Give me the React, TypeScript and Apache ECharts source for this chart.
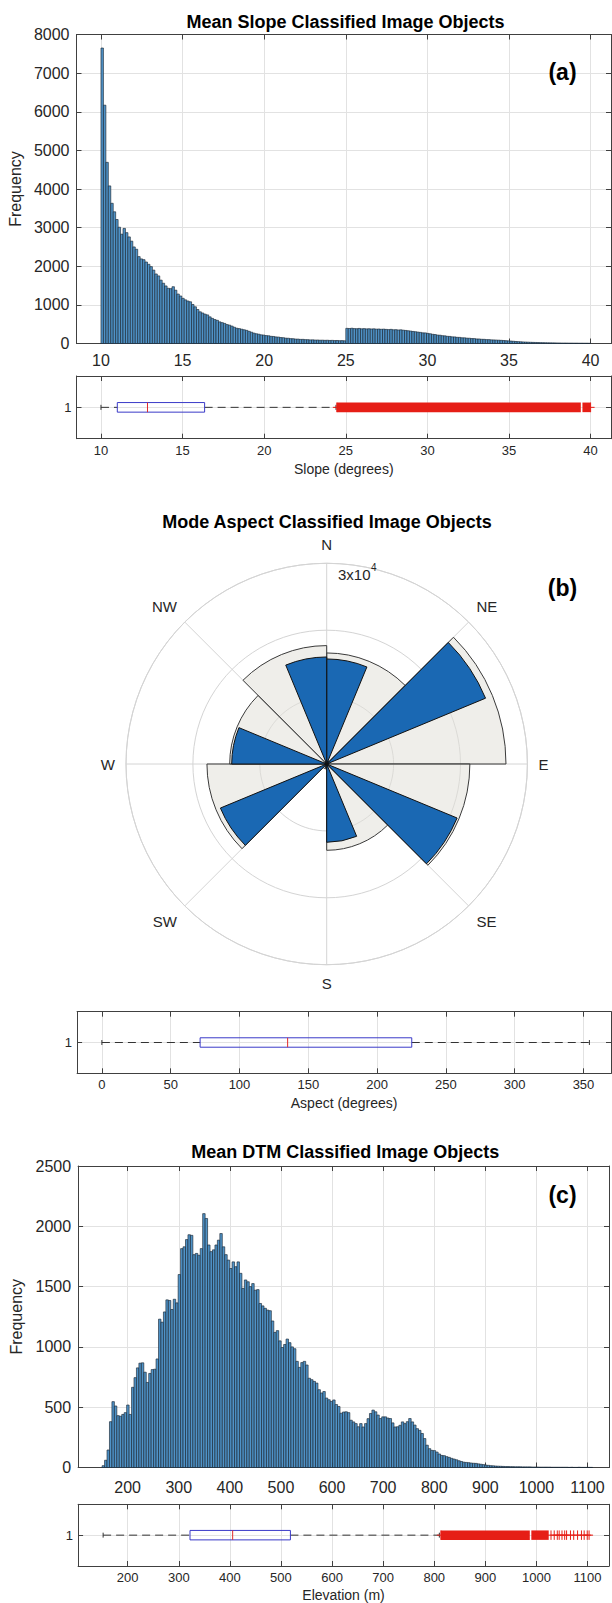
import React, { useEffect, useRef } from 'react';
import * as echarts from 'echarts';

// ---------------- Panel (a): Mean slope ----------------
const slopeBinStart = 10;
const slopeBinWidth = 0.15;
const slopeCounts = [
  7650, 6170, 4690, 4080, 3630, 3410, 3210, 3010, 2830, 2980,
  2870, 2760, 2650, 2500, 2440, 2250, 2190, 2170, 2110, 2050,
  1990, 1900, 1800, 1750, 1640, 1560, 1490, 1430, 1420, 1470,
  1380, 1280, 1230, 1170, 1130, 1100, 1080, 1010, 950, 880,
  820, 790, 760, 740, 690, 650, 620, 600, 560, 540,
  520, 490, 475, 450, 420, 395, 385, 370, 355, 340,
  315, 292, 268, 252, 240, 224, 218, 205, 200, 186,
  182, 170, 166, 154, 150, 138, 136, 126, 124, 115,
  114, 106, 107, 100, 99, 93, 95, 89, 90, 85,
  86, 82, 84, 79, 81, 76, 78, 73, 75, 70,
  392, 388, 395, 386, 383, 390, 380, 385, 378, 382,
  376, 380, 372, 375, 368, 372, 365, 360, 366, 355,
  358, 350, 354, 345, 338, 330, 322, 312, 305, 295,
  288, 276, 274, 262, 252, 238, 232, 218, 214, 202,
  198, 186, 183, 172, 170, 160, 158, 148, 147, 138,
  136, 128, 127, 118, 117, 109, 108, 101, 100, 94,
  92, 89, 86, 82, 78, 73, 68, 63, 58, 52,
  48, 44, 40, 37, 34, 31, 29, 27, 25, 23,
  21, 20, 18, 17, 16, 15, 14, 13, 12, 12,
  11, 10, 10, 9, 9, 8, 8, 7, 7, 6,
];
const slopeYTicks = [0, 1000, 2000, 3000, 4000, 5000, 6000, 7000, 8000];
const slopeXTicks = [10, 15, 20, 25, 30, 35, 40];
const slopeXRange = [8.5, 41.25];
const slopeBoxStats = [10.0, 11.0, 12.85, 16.35, 24.4];
const slopeOutlierBands = [[24.45, 39.4], [39.5, 40.0]];
const slopeOutlierMarks = [24.45, 40.0];

// ---------------- Panel (b): Mode aspect ----------------
const compassAngles = [0, 45, 90, 135, 180, 225, 270, 315];
const compassLabels = ['N', 'NE', 'E', 'SE', 'S', 'SW', 'W', 'NW'];
const aspectWideBins = ['0-45', '45-90', '90-135', '135-180', '180-225', '225-270', '270-315', '315-360'];
const aspectWideCounts = [16600, 26800, 21400, 12900, 750, 17900, 14500, 17700];
const aspectNarrowBins = [
  '0', '22.5', '45', '67.5', '90', '112.5', '135', '157.5',
  '180', '202.5', '225', '247.5', '270', '292.5', '315', '337.5',
];
const aspectNarrowCounts = [
  15700, 500, 25700, 350, 300, 21100, 350, 11700,
  600, 300, 17200, 300, 14200, 300, 350, 16000,
];
const aspectRadiusTicks = [0, 10000, 20000, 30000];
const aspectXTicks = [0, 50, 100, 150, 200, 250, 300, 350];
const aspectXRange = [-18, 370];
const aspectBoxStats = [0, 71.4, 135, 225.2, 354.3];

// ---------------- Panel (c): Mean DTM ----------------
const elevBinStart = 150;
const elevBinWidth = 4.8;
const elevCounts = [
  15, 60, 145, 380, 546, 510, 430, 425, 440, 455,
  518, 440, 665, 745, 826, 865, 868, 790, 705, 780,
  812, 815, 900, 1230, 1205, 1290, 1390, 1385, 1310, 1395,
  1365, 1600, 1815, 1830, 1890, 1930, 1925, 1765, 1775, 1760,
  1815, 2105, 2065, 1845, 1790, 1805, 1845, 1885, 1940, 1830,
  1765, 1720, 1650, 1705, 1665, 1705, 1610, 1485, 1555, 1540,
  1500, 1525, 1470, 1475, 1360, 1340, 1320, 1305, 1300, 1215,
  1120, 1135, 1050, 995, 1020, 1065, 1035, 1000, 985, 880,
  830, 870, 880, 850, 740, 728, 714, 700, 645, 618,
  630, 576, 562, 548, 560, 522, 506, 450, 460, 462,
  455, 392, 378, 364, 338, 364, 336, 364, 405, 448,
  476, 462, 435, 406, 420, 420, 410, 406, 370, 336,
  338, 350, 378, 364, 380, 406, 378, 352, 322, 308,
  282, 240, 185, 156, 142, 140, 128, 112, 100, 98,
  90, 84, 76, 70, 64, 56, 50, 44, 42, 40,
  37, 35, 34, 30, 27, 24, 20, 18, 15, 14,
  12, 11, 10, 9, 8, 8, 7, 7, 6, 6,
  6, 5, 5, 5, 5, 4, 4, 4, 3, 3,
  3, 3, 3, 2, 2, 2, 2, 2, 2, 2,
  1, 2, 1, 1, 2, 1, 1, 1, 1, 1,
];
const elevYTicks = [0, 500, 1000, 1500, 2000, 2500];
const elevXTicks = [200, 300, 400, 500, 600, 700, 800, 900, 1000, 1100];
const elevXRange = [103, 1142];
const elevBoxStats = [152, 322, 405.5, 518.5, 810];
const elevOutlierBands = [[813, 987], [990, 1024]];
const elevOutlierMarks = [
  813, 1028.5, 1034.8, 1040.8, 1044.5, 1050, 1055.3, 1059, 1066.6,
  1072.9, 1080.5, 1088.1, 1093.4, 1099.4, 1103,
];

const boxYTicks = [0.5, 1, 1.5];
const boxYLabels = ['', '1', ''];

// ---------------- styling ----------------
const FONT = "'Liberation Sans', Arial, Helvetica, sans-serif";
const AX_COLOR = '#404040';
const GRID_COLOR = '#e2e2e2';
const TXT = '#262626';
const BAR_FILL = '#4f93c8';
const BAR_EDGE = '#1a2633';
const BOX_BLUE = '#3a3ac8';
const MED_RED = '#e02a2a';
const OUT_RED = '#e61e16';

function isTick(v: number, ticks: number[]) {
  return ticks.some((t) => Math.abs(t - v) < 1e-6);
}

function xPair(gridIndex: number, ticks: number[], range: number[], labelSize: number, margin: number, name?: string, nameGap?: number) {
  const step = ticks[1] - ticks[0];
  const base: any = {
    type: 'value',
    gridIndex,
    min: range[0],
    max: range[1],
    minInterval: step,
    maxInterval: step,
    splitNumber: Math.max(1, Math.round((range[1] - range[0]) / step)),
    axisLine: { show: true, onZero: false, lineStyle: { color: AX_COLOR, width: 1 } },
    axisTick: { show: true, inside: true, length: 5, lineStyle: { color: AX_COLOR, width: 1 } },
  };
  const bottom: any = {
    ...base,
    position: 'bottom',
    axisLabel: {
      show: true,
      fontSize: labelSize,
      color: TXT,
      fontFamily: FONT,
      margin,
      formatter: (v: number) => (isTick(v, ticks) ? String(v) : ''),
    },
    splitLine: { show: true, lineStyle: { color: GRID_COLOR, width: 1 } },
  };
  if (name) {
    bottom.name = name;
    bottom.nameLocation = 'middle';
    bottom.nameGap = nameGap;
    bottom.nameTextStyle = { fontSize: 14, color: TXT, fontFamily: FONT };
  }
  const top: any = { ...base, position: 'top', axisLabel: { show: false }, splitLine: { show: false } };
  return [bottom, top];
}

function yPair(gridIndex: number, ticks: number[], labels: string[] | null, labelSize: number, margin: number, name?: string, nameGap?: number) {
  const step = ticks[1] - ticks[0];
  const base: any = {
    type: 'value',
    gridIndex,
    min: ticks[0],
    max: ticks[ticks.length - 1],
    interval: step,
    axisLine: { show: true, onZero: false, lineStyle: { color: AX_COLOR, width: 1 } },
    axisTick: { show: true, inside: true, length: 5, lineStyle: { color: AX_COLOR, width: 1 } },
  };
  const left: any = {
    ...base,
    position: 'left',
    axisLabel: {
      show: true,
      fontSize: labelSize,
      color: TXT,
      fontFamily: FONT,
      margin,
      formatter: (v: number) => {
        const i = ticks.findIndex((t) => Math.abs(t - v) < 1e-6);
        if (i < 0) return '';
        return labels ? labels[i] : String(v);
      },
    },
    splitLine: { show: true, lineStyle: { color: GRID_COLOR, width: 1 } },
  };
  if (name) {
    left.name = name;
    left.nameLocation = 'middle';
    left.nameGap = nameGap;
    left.nameTextStyle = { fontSize: 16, color: TXT, fontFamily: FONT };
  }
  const right: any = { ...base, position: 'right', axisLabel: { show: false }, splitLine: { show: false } };
  return [left, right];
}

function histData(start: number, width: number, counts: number[]) {
  return counts.map((c, i) => [start + i * width, start + (i + 1) * width, c]);
}

const histRender = (_params: any, api: any) => {
  const a = api.coord([api.value(0), api.value(2)]);
  const b = api.coord([api.value(1), 0]);
  return {
    type: 'rect',
    shape: { x: a[0], y: a[1], width: b[0] - a[0], height: b[1] - a[1] },
    style: { fill: BAR_FILL, stroke: BAR_EDGE, lineWidth: 0.65 },
  };
};

function boxRender(bands: number[][], marks: number[]) {
  const H = 0.0766;
  const C = 0.04;
  return (_params: any, api: any) => {
    const lo = api.value(0);
    const q1 = api.value(1);
    const med = api.value(2);
    const q3 = api.value(3);
    const hi = api.value(4);
    const P = (x: number, y: number) => api.coord([x, y]);
    const line = (p: number[], q: number[], style: any) => ({
      type: 'line',
      shape: { x1: p[0], y1: p[1], x2: q[0], y2: q[1] },
      style,
    });
    const dash = { stroke: '#333333', lineWidth: 1, lineDash: [8, 5] };
    const solid = { stroke: '#333333', lineWidth: 1 };
    const children: any[] = [];
    children.push(line(P(lo, 1), P(q1, 1), dash));
    children.push(line(P(q3, 1), P(hi, 1), dash));
    children.push(line(P(lo, 1 + C), P(lo, 1 - C), solid));
    children.push(line(P(hi, 1 + C), P(hi, 1 - C), solid));
    bands.forEach(([s, e]) => {
      const t = P(s, 1 + H);
      const u = P(e, 1 - H);
      children.push({
        type: 'rect',
        shape: { x: t[0], y: t[1], width: u[0] - t[0], height: u[1] - t[1] },
        style: { fill: OUT_RED },
      });
    });
    marks.forEach((v) => {
      const red = { stroke: OUT_RED, lineWidth: 1 };
      children.push(line(P(v, 1 + H), P(v, 1 - H), red));
      const m = P(v, 1);
      children.push(line([m[0] - 4, m[1]], [m[0] + 4, m[1]], red));
    });
    const t = P(q1, 1 + H);
    const u = P(q3, 1 - H);
    children.push({
      type: 'rect',
      shape: { x: t[0], y: t[1], width: u[0] - t[0], height: u[1] - t[1] },
      style: { fill: 'none', stroke: BOX_BLUE, lineWidth: 1 },
    });
    children.push(line(P(med, 1 + H), P(med, 1 - H), { stroke: MED_RED, lineWidth: 1 }));
    return { type: 'group', children };
  };
}

function txt(x: number, y: number, text: string, size: number, bold: boolean, align = 'center') {
  return {
    type: 'text',
    x,
    y,
    z: 100,
    silent: true,
    style: {
      text,
      fill: bold ? '#000000' : TXT,
      font: `${bold ? 'bold ' : ''}${size}px ${FONT}`,
      align,
      verticalAlign: 'middle',
      textAlign: align,
      textVerticalAlign: 'middle',
    },
  };
}

function buildOption() {
  const [xa0, xa1] = xPair(0, slopeXTicks, slopeXRange, 16, 9);
  const [xa2, xa3] = xPair(1, slopeXTicks, slopeXRange, 13, 5, 'Slope (degrees)', 23);
  const [xa4, xa5] = xPair(2, aspectXTicks, aspectXRange, 13, 5, 'Aspect (degrees)', 23);
  const [xa6, xa7] = xPair(3, elevXTicks, elevXRange, 16, 12);
  const [xa8, xa9] = xPair(4, elevXTicks, elevXRange, 13, 5, 'Elevation (m)', 22);

  const [ya0, ya1] = yPair(0, slopeYTicks, null, 16, 7, 'Frequency', 50);
  const [ya2, ya3] = yPair(1, boxYTicks, boxYLabels, 13, 5);
  const [ya4, ya5] = yPair(2, boxYTicks, boxYLabels, 13, 5);
  const [ya6, ya7] = yPair(3, elevYTicks, null, 16, 7, 'Frequency', 51);
  const [ya8, ya9] = yPair(4, boxYTicks, boxYLabels, 13, 5);

  const polarCenter = [326.7, 764];
  const polarRadius = 200.7;
  const rMax = aspectRadiusTicks[aspectRadiusTicks.length - 1];

  return {
    animation: false,
    backgroundColor: '#ffffff',
    textStyle: { fontFamily: FONT },
    grid: [
      { left: 76.5, top: 34.5, width: 534.5, height: 309, outerBoundsMode: 'none' },
      { left: 76.5, top: 376, width: 534.5, height: 62.7, outerBoundsMode: 'none' },
      { left: 77.1, top: 1011.7, width: 533.9, height: 61.6, outerBoundsMode: 'none' },
      { left: 78.1, top: 1166, width: 530.9, height: 301.5, outerBoundsMode: 'none' },
      { left: 78.1, top: 1504.3, width: 530.9, height: 61.7, outerBoundsMode: 'none' },
    ],
    xAxis: [xa0, xa1, xa2, xa3, xa4, xa5, xa6, xa7, xa8, xa9],
    yAxis: [ya0, ya1, ya2, ya3, ya4, ya5, ya6, ya7, ya8, ya9],
    polar: [
      { center: polarCenter, radius: polarRadius },
      { center: polarCenter, radius: polarRadius },
      { center: polarCenter, radius: polarRadius },
    ],
    angleAxis: [
      {
        polarIndex: 0,
        type: 'value',
        min: 0,
        max: 360,
        interval: 45,
        startAngle: 90,
        clockwise: true,
        axisLine: { show: true, lineStyle: { color: '#d4d4d4', width: 1 } },
        axisTick: { show: false },
        splitLine: { show: true, lineStyle: { color: '#d4d4d4', width: 1 } },
        axisLabel: {
          show: true,
          fontSize: 15,
          color: TXT,
          fontFamily: FONT,
          margin: 11,
          formatter: (v: number) => {
            const i = compassAngles.indexOf(v);
            return i >= 0 ? compassLabels[i] : '';
          },
        },
      },
      {
        polarIndex: 1,
        type: 'category',
        data: aspectWideBins,
        startAngle: 90,
        clockwise: true,
        boundaryGap: true,
        axisLine: { show: false },
        axisTick: { show: false },
        axisLabel: { show: false },
        splitLine: { show: false },
      },
      {
        polarIndex: 2,
        type: 'category',
        data: aspectNarrowBins,
        startAngle: 90,
        clockwise: true,
        boundaryGap: true,
        axisLine: { show: false },
        axisTick: { show: false },
        axisLabel: { show: false },
        splitLine: { show: false },
      },
    ],
    radiusAxis: [
      {
        polarIndex: 0,
        type: 'value',
        min: 0,
        max: rMax,
        interval: aspectRadiusTicks[1] - aspectRadiusTicks[0],
        axisLine: { show: false },
        axisTick: { show: false },
        axisLabel: { show: false },
        splitLine: { show: true, lineStyle: { color: '#d4d4d4', width: 1 } },
      },
      {
        polarIndex: 1, type: 'value', min: 0, max: rMax,
        axisLine: { show: false }, axisTick: { show: false }, axisLabel: { show: false }, splitLine: { show: false },
      },
      {
        polarIndex: 2, type: 'value', min: 0, max: rMax,
        axisLine: { show: false }, axisTick: { show: false }, axisLabel: { show: false }, splitLine: { show: false },
      },
    ],
    graphic: [
      txt(345.5, 22, 'Mean Slope Classified Image Objects', 18, true),
      txt(562.5, 72, '(a)', 23, true),
      txt(327, 522, 'Mode Aspect Classified Image Objects', 18, true),
      txt(562.5, 588, '(b)', 23, true),
      txt(345.3, 1152, 'Mean DTM Classified Image Objects', 18, true),
      txt(562.5, 1195, '(c)', 23, true),
      txt(338, 574, '3x10', 15, false, 'left'),
      txt(371, 567, '4', 10, false, 'left'),
    ],
    series: [
      {
        type: 'custom',
        name: 'slopeHist',
        xAxisIndex: 0,
        yAxisIndex: 0,
        data: histData(slopeBinStart, slopeBinWidth, slopeCounts),
        encode: { x: [0, 1], y: 2 },
        renderItem: histRender,
        silent: true,
      },
      {
        type: 'custom',
        name: 'slopeBox',
        xAxisIndex: 2,
        yAxisIndex: 2,
        data: [[...slopeBoxStats, 1]],
        encode: { x: [0, 1, 2, 3, 4], y: 5 },
        renderItem: boxRender(slopeOutlierBands, slopeOutlierMarks),
        silent: true,
      },
      {
        type: 'bar',
        name: 'aspectWide',
        coordinateSystem: 'polar',
        polarIndex: 1,
        data: aspectWideCounts,
        barCategoryGap: '0%',
        itemStyle: { color: 'rgba(226,224,217,0.55)', borderColor: '#3a3a3a', borderWidth: 1 },
        silent: true,
        z: 2,
      },
      {
        type: 'bar',
        name: 'aspectNarrow',
        coordinateSystem: 'polar',
        polarIndex: 2,
        data: aspectNarrowCounts,
        barCategoryGap: '0%',
        itemStyle: { color: '#1a68b3', borderColor: '#111111', borderWidth: 1 },
        silent: true,
        z: 3,
      },
      {
        type: 'custom',
        name: 'aspectBox',
        xAxisIndex: 4,
        yAxisIndex: 4,
        data: [[...aspectBoxStats, 1]],
        encode: { x: [0, 1, 2, 3, 4], y: 5 },
        renderItem: boxRender([], []),
        silent: true,
      },
      {
        type: 'custom',
        name: 'elevHist',
        xAxisIndex: 6,
        yAxisIndex: 6,
        data: histData(elevBinStart, elevBinWidth, elevCounts),
        encode: { x: [0, 1], y: 2 },
        renderItem: histRender,
        silent: true,
      },
      {
        type: 'custom',
        name: 'elevBox',
        xAxisIndex: 8,
        yAxisIndex: 8,
        data: [[...elevBoxStats, 1]],
        encode: { x: [0, 1, 2, 3, 4], y: 5 },
        renderItem: boxRender(elevOutlierBands, elevOutlierMarks),
        silent: true,
      },
    ],
  };
}

export default function App() {
  const ref = useRef<HTMLDivElement>(null);
  useEffect(() => {
    if (!ref.current) return;
    const chart = echarts.init(ref.current, null, { renderer: 'svg' });
    chart.setOption(buildOption() as any);
    return () => {
      chart.dispose();
    };
  }, []);
  return (
    <div
      ref={ref}
      style={{ position: 'absolute', left: 0, top: 0, width: 612, height: 1603, background: '#ffffff' }}
    />
  );
}
